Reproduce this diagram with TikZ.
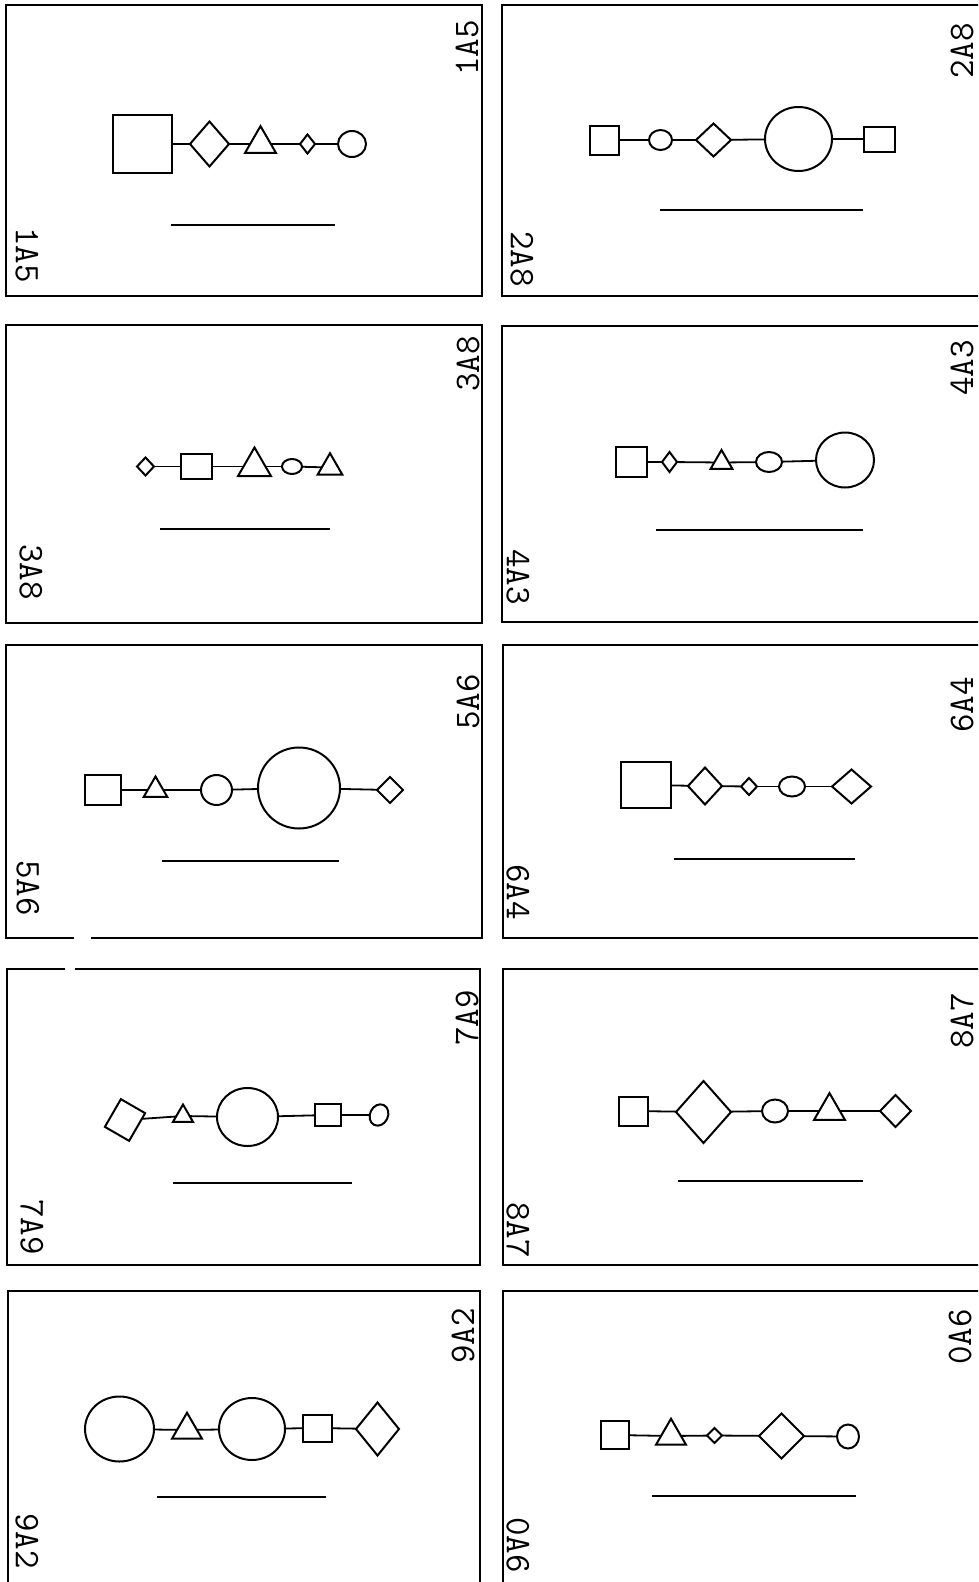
\documentclass[tikz,border=0pt]{standalone}
\usepackage{fontspec}
\usetikzlibrary{shapes.geometric}
\tikzset{
  sh/.style={draw, line width=2pt, inner sep=0pt, outer sep=0pt},
  sq/.style={sh, rectangle},
  ci/.style={sh, ellipse},
  di/.style={sh, diamond},
  tri/.style={sh, regular polygon, regular polygon sides=3},
  ln/.style={line width=1.8pt},
  ul/.style={line width=2pt},
  frame/.style={line width=2pt},
  lbl/.style={font=\ttfamily\fontsize{36}{36}\selectfont, inner sep=0pt},
  lbd/.style={lbl, rotate=-90},
  lbu/.style={lbl, rotate=90}
}
\begin{document}
\begin{tikzpicture}[x=1pt,y=-1pt]
\fill[white] (0,0) rectangle (978,1582);
\useasboundingbox (0,0) rectangle (978,1582);
\clip (0,0) rectangle (978,1582);

% ---------- frames ----------
\draw[frame] (6,5) rectangle (482,296);
\draw[frame] (980,5) -- (502,5) -- (502,296) -- (980,296);
\draw[frame] (6,325) rectangle (482,623);
\draw[frame] (980,326) -- (502,326) -- (502,622) -- (980,622);
\draw[frame] (74,938) -- (6,938) -- (6,645) -- (482,645) -- (482,938) -- (91,938);
\draw[frame] (980,645) -- (503,645) -- (503,938) -- (980,938);
\draw[frame] (65,969) -- (7,969) -- (7,1265) -- (480,1265) -- (480,969) -- (75,969);
\draw[frame] (980,969) -- (503,969) -- (503,1265) -- (980,1265);
\draw[frame] (8,1590) -- (8,1291) -- (480,1291) -- (480,1590);
\draw[frame] (980,1291) -- (503,1291) -- (503,1590);

% ---------- panel 1A5 ----------
\node[sq, minimum width=59, minimum height=58] (a1) at (142.5,144) {};
\node[di, minimum width=39, minimum height=45] (a2) at (209.5,144) {};
\node[tri, minimum size=35.8] (a3) at (260.5,144) {};
\node[di, minimum width=15, minimum height=19] (a4) at (307.5,144) {};
\node[ci, minimum width=28, minimum height=26] (a5) at (352,144) {};
\draw[ln] (a1) -- (a2); \draw[ln] (a2) -- (a3); \draw[ln] (a3) -- (a4); \draw[ln] (a4) -- (a5);
\draw[ul] (171,225) -- (335,225);
\node[lbd] (la1) at (27,255) {1A5};
\node[lbu] (la2) at (467,48) {1A5};

% ---------- panel 2A8 ----------
\node[sq, minimum width=29, minimum height=29] (b1) at (604.5,140) {};
\node[ci, minimum width=23, minimum height=20] (b2) at (660.5,140) {};
\node[di, minimum width=35, minimum height=33] (b3) at (713.5,140) {};
\node[ci, minimum width=67, minimum height=64] (b4) at (798.5,139) {};
\node[sq, minimum width=31, minimum height=25] (b5) at (879.5,139) {};
\draw[ln] (b1) -- (b2); \draw[ln] (b2) -- (b3); \draw[ln] (b3) -- (b4); \draw[ln] (b4) -- (b5);
\draw[ul] (660,210) -- (863,210);
\node[lbd] (lb1) at (522,259) {2A8};
\node[lbu] (lb2) at (962,51) {2A8};

% ---------- panel 3A8 ----------
\node[di, minimum width=17, minimum height=18] (c1) at (145.5,466.5) {};
\node[sq, minimum width=31, minimum height=25] (c2) at (196.5,466.5) {};
\node[tri, minimum size=38] (c3) at (254.5,466.5) {};
\node[ci, minimum width=20, minimum height=15] (c4) at (292,466.5) {};
\node[tri, minimum size=28.5] (c5) at (330,467.5) {};
\draw[ln] (c1) -- (c2); \draw[ln] (c2) -- (c3); \draw[ln] (c3) -- (c4); \draw[ln] (c4) -- (c5);
\draw[ul] (160,529) -- (330,529);
\node[lbd] (lc1) at (31,572) {3A8};
\node[lbu] (lc2) at (468,364) {3A8};

% ---------- panel 4A3 ----------
\node[sq, minimum width=31, minimum height=30] (d1) at (631.5,462) {};
\node[di, minimum width=15, minimum height=20] (d2) at (669.5,462) {};
\node[tri, minimum size=25] (d3) at (721.5,462.5) {};
\node[ci, minimum width=26, minimum height=20] (d4) at (769,462) {};
\node[ci, minimum width=58, minimum height=55] (d5) at (845,460) {};
\draw[ln] (d1) -- (d2); \draw[ln] (d2) -- (d3); \draw[ln] (d3) -- (d4); \draw[ln] (d4) -- (d5);
\draw[ul] (656,530) -- (863,530);
\node[lbd] (ld1) at (518,577) {4A3};
\node[lbu] (ld2) at (962,368) {4A3};

% ---------- panel 5A6 ----------
\node[sq, minimum width=36, minimum height=30] (e1) at (103,790) {};
\node[tri, minimum size=27] (e2) at (155.5,790) {};
\node[ci, minimum width=31, minimum height=30] (e3) at (216.5,790) {};
\node[ci, minimum width=82, minimum height=81] (e4) at (299,788) {};
\node[di, minimum width=26, minimum height=26] (e5) at (390,790) {};
\draw[ln] (e1) -- (e2); \draw[ln] (e2) -- (e3); \draw[ln] (e3) -- (e4); \draw[ln] (e4) -- (e5);
\draw[ul] (162,861) -- (339,861);
\node[lbd] (le1) at (28,888) {5A6};
\node[lbu] (le2) at (468,702) {5A6};

% ---------- panel 6A4 ----------
\node[sq, minimum width=50, minimum height=46] (f1) at (646,785) {};
\node[di, minimum width=34, minimum height=37] (f2) at (705,786) {};
\node[di, minimum width=16, minimum height=17] (f3) at (749,786.5) {};
\node[ci, minimum width=26, minimum height=20] (f4) at (792,786.5) {};
\node[di, minimum width=39, minimum height=34] (f5) at (851.5,786.5) {};
\draw[ln] (f1) -- (f2); \draw[ln] (f2) -- (f3); \draw[ln] (f3) -- (f4); \draw[ln] (f4) -- (f5);
\draw[ul] (674,859) -- (855,859);
\node[lbd] (lf1) at (518,892) {6A4};
\node[lbu] (lf2) at (962,705) {6A4};

% ---------- panel 7A9 ----------
\node[sq, minimum width=28, minimum height=32, rotate=-30] (g1) at (125,1120) {};
\node[tri, minimum size=23] (g2) at (183,1116) {};
\node[ci, minimum width=61, minimum height=58] (g3) at (247.5,1117) {};
\node[sq, minimum width=26, minimum height=22] (g4) at (328,1115) {};
\node[ci, minimum width=18, minimum height=22, rotate=-25] (g5) at (379,1115) {};
\draw[ln] (g1) -- (g2); \draw[ln] (g2) -- (g3); \draw[ln] (g3) -- (g4); \draw[ln] (g4) -- (g5);
\draw[ul] (173,1183) -- (352,1183);
\node[lbd] (lg1) at (32,1227) {7A9};
\node[lbu] (lg2) at (467,1018) {7A9};

% ---------- panel 8A7 ----------
\node[sq, minimum width=29, minimum height=29] (h1) at (633.5,1111) {};
\node[di, minimum width=55, minimum height=62] (h2) at (703.5,1112) {};
\node[ci, minimum width=26, minimum height=23] (h3) at (775,1111) {};
\node[tri, minimum size=35.8] (h4) at (829.5,1111) {};
\node[di, minimum width=31, minimum height=32] (h5) at (895.5,1111) {};
\draw[ln] (h1) -- (h2); \draw[ln] (h2) -- (h3); \draw[ln] (h3) -- (h4); \draw[ln] (h4) -- (h5);
\draw[ul] (678,1181) -- (863,1181);
\node[lbd] (lh1) at (518,1230) {8A7};
\node[lbu] (lh2) at (962,1021) {8A7};

% ---------- panel 9A2 ----------
\node[ci, minimum width=69, minimum height=65] (i1) at (119.5,1429) {};
\node[tri, minimum size=34.6] (i2) at (187,1430) {};
\node[ci, minimum width=66, minimum height=62] (i3) at (252,1429) {};
\node[sq, minimum width=29, minimum height=27] (i4) at (317.5,1428) {};
\node[di, minimum width=43, minimum height=53] (i5) at (377.5,1429) {};
\draw[ln] (i1) -- (i2); \draw[ln] (i2) -- (i3); \draw[ln] (i3) -- (i4); \draw[ln] (i4) -- (i5);
\draw[ul] (157,1497) -- (326,1497);
\node[lbd] (li1) at (27,1541) {9A2};
\node[lbu] (li2) at (463,1336) {9A2};

% ---------- panel 0A6 ----------
\node[sq, minimum width=28, minimum height=28] (j1) at (615,1435) {};
\node[tri, minimum size=34.6] (j2) at (671,1436) {};
\node[di, minimum width=15, minimum height=15] (j3) at (714.5,1435.5) {};
\node[di, minimum width=45, minimum height=45] (j4) at (781.5,1436) {};
\node[ci, minimum width=22, minimum height=24] (j5) at (848,1436.5) {};
\draw[ln] (j1) -- (j2); \draw[ln] (j2) -- (j3); \draw[ln] (j3) -- (j4); \draw[ln] (j4) -- (j5);
\draw[ul] (652,1496) -- (856,1496);
\node[lbd] (lj1) at (518,1545) {0A6};
\node[lbu] (lj2) at (960,1337) {0A6};
\end{tikzpicture}
\end{document}
